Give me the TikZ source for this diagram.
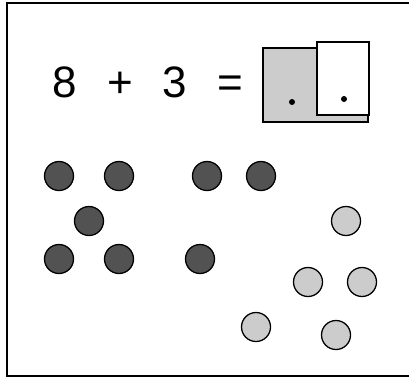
\documentclass[tikz,border=0pt]{standalone}
\usepackage{fontspec}
\setmainfont{Liberation Sans}
\usetikzlibrary{positioning}

\begin{document}
\begin{tikzpicture}[
    x=1pt, y=-1pt,
    sym/.style={anchor=base, inner sep=0pt, font=\fontsize{44}{48}\selectfont},
    card/.style={draw, line width=1.9pt, anchor=north west, inner sep=0pt},
    pip/.style={circle, fill=black, inner sep=0pt, minimum size=6pt},
    dark/.style={circle, draw, line width=1.3pt, fill=black!68, inner sep=0pt, minimum size=29pt},
    light/.style={circle, draw, line width=1.3pt, fill=black!20, inner sep=0pt, minimum size=29pt}
]
\useasboundingbox (0,0) rectangle (409,383);
% outer frame
\draw[line width=2pt] (7,3) rectangle (430,376);

% the sum
\node[sym] (eight) at (65,97) {8};
\node[sym] (plus) at (120,97) {+};
\node[sym] (three) at (175,97) {3};
\node[sym] (equals) at (230,97) {=};

% answer cards
\node[card, fill=black!20, minimum width=105pt, minimum height=74pt] (tens) at (262,47) {};
\node[card, fill=white, minimum width=52pt, minimum height=73pt] (ones) at (316,41) {};
\node[pip] (tensdot) at (292,102) {};
\node[pip] (onesdot) at (344,99) {};

% counters for 8
\node[dark] (a1) at (59,176) {};
\node[dark] (a2) at (119,176) {};
\node[dark] (a3) at (207,176) {};
\node[dark] (a4) at (261,176) {};
\node[dark] (a5) at (89,221) {};
\node[dark] (a6) at (59,259) {};
\node[dark] (a7) at (119,259) {};
\node[dark] (a8) at (200,259) {};

% counters for 3 (and more)
\node[light] (b1) at (346,221) {};
\node[light] (b2) at (308,282) {};
\node[light] (b3) at (362,282) {};
\node[light] (b4) at (256,327) {};
\node[light] (b5) at (336,335) {};
\end{tikzpicture}
\end{document}
